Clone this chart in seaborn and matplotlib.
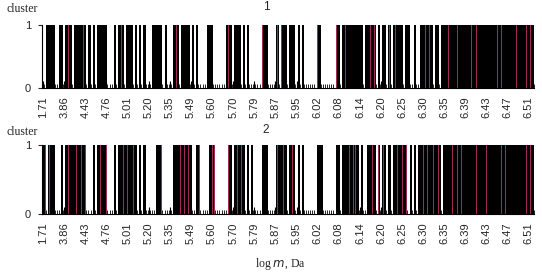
import numpy as np
import pandas as pd
import matplotlib
matplotlib.use("Agg")
import matplotlib.pyplot as plt
import seaborn as sns

# log m fractions, one tick label every 10 fractions
tick_labels = ["1.71", "3.86", "4.43", "4.76", "5.01", "5.20", "5.35", "5.49",
               "5.60", "5.70", "5.79", "5.87", "5.95", "6.02", "6.08", "6.14",
               "6.20", "6.25", "6.30", "6.35", "6.39", "6.43", "6.47", "6.51"]

# cluster membership per fraction: 0 = absent, 1 = present, 2 = present and marked
# (groups of 10 fractions, one group per tick label)
cluster1_codes = ("0011110011 0121011112 1010101111 1000101210 1110101010 "
                  "0011111010 0012101111 0101000011 1000000121 0111010100 "
                  "0000211000 0202110111 0101000000 2100000002 1012111111 "
                  "1201121201 0110201212 1011001001 1212101101 1121112111 "
                  "1112121111 1111121211 1111211112 121")
cluster2_codes = ("1202110001 0121112121 2000101211 2000101121 2112101010 "
                  "0000112000 0021121212 1001200001 2200000021 0121210101 "
                  "0000111000 0211210121 0101000000 1110000001 1011121221 "
                  "0100112102 0210101121 2120101011 2121121210 1111212121 "
                  "1111121111 2111111212 1111111112 121")

MAGENTA = "#9E2A5E"


def to_frame(codes):
    vals = [int(c) for c in codes.replace(" ", "")]
    df = pd.DataFrame({"fraction": np.arange(len(vals)), "code": vals})
    df["member"] = (df["code"] > 0).astype(int)
    df["marked"] = (df["code"] == 2).astype(int)
    return df


sns.set_style("ticks")
plt.rcParams["font.family"] = ["Liberation Sans", "DejaVu Sans"]

fig = plt.figure(figsize=(5.42, 2.74), dpi=100)
ax1 = fig.add_axes([0.0775, 0.679, 0.908, 0.230])
ax2 = fig.add_axes([0.0775, 0.219, 0.908, 0.252])

for ax, codes, title, ty in [(ax1, cluster1_codes, "1", 0.975),
                             (ax2, cluster2_codes, "2", 0.525)]:
    df = to_frame(codes)
    n = len(df)
    sns.barplot(data=df, x="fraction", y="member", color="black", width=1.0,
                saturation=1, linewidth=0, errorbar=None, ax=ax,
                antialiased=False)
    sns.barplot(data=df, x="fraction", y="marked", color=MAGENTA, width=0.45,
                saturation=1, linewidth=0, errorbar=None, ax=ax,
                antialiased=False)
    ax.set_xlim(-0.5, n - 0.5)
    ax.set_ylim(0, 1)
    ax.set_yticks([0, 1])
    ax.set_yticklabels(["0", "1"], fontsize=8)
    major = np.arange(0, n, 10)
    ax.set_xticks(major)
    ax.set_xticklabels(tick_labels, rotation=90, fontsize=8)
    ax.set_xticks(np.arange(-0.5, n, 1), minor=True)
    ax.tick_params(axis="x", which="major", direction="in", length=5,
                   width=0.8, pad=6, color="black")
    ax.tick_params(axis="x", which="minor", direction="in", length=3,
                   width=0.6, color="black")
    ax.tick_params(axis="y", direction="out", length=3, width=0.8, pad=5)
    ax.set_xlabel("")
    ax.set_ylabel("")
    sns.despine(ax=ax)
    for s in ["left", "bottom"]:
        ax.spines[s].set_color("black")
        ax.spines[s].set_linewidth(0.8)
    fig.text(266 / 542, ty, title, ha="center", va="center", fontsize=8.5)
    fig.text(0.012, ty - 0.008, "cluster", ha="left", va="center",
             fontsize=8.5, family=["Liberation Serif", "DejaVu Serif"])

fig.text(280 / 542, 1 - 264 / 274, r"log $\it{m}$, Da", ha="center",
         va="center", fontsize=8.5, family=["Liberation Serif", "DejaVu Serif"])

fig.savefig("out.png", dpi=100)
